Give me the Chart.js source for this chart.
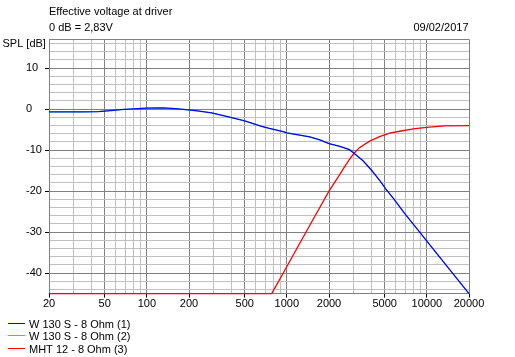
<!DOCTYPE html>
<html><head><meta charset="utf-8">
<script src="https://cdn.jsdelivr.net/npm/chart.js@4/dist/chart.umd.min.js"></script>
<style>html,body{margin:0;padding:0;background:#fff;}canvas{display:block;}</style>
</head><body>
<canvas id="c" width="515" height="357"></canvas>
<script>
const titleText = 'Effective voltage at driver';
const refText = '0 dB = 2,83V';
const dateText = '09/02/2017';
const yAxisTitle = 'SPL [dB]';
const seriesNames = ['W 130 S - 8 Ohm (1)', 'W 130 S - 8 Ohm (2)', 'MHT 12 - 8 Ohm (3)'];
const seriesColors = ['#0000ff', '#00ff00', '#ff0000'];

const wooferFreq = [20, 35, 45, 55, 65, 80, 100, 130, 160, 190, 230, 290, 390, 500, 660, 750, 940, 1000, 1460, 1720, 2000, 2390, 2800, 3000, 3500, 4000, 4600, 5100, 5800, 7000, 8890, 10000, 15000, 20000];
const wooferSpl = [-0.7, -0.68, -0.6, -0.35, -0.15, 0.05, 0.25, 0.28, 0.1, -0.15, -0.45, -0.9, -1.95, -2.9, -4.2, -4.7, -5.5, -5.8, -6.8, -7.5, -8.4, -9.1, -9.9, -10.7, -12.6, -14.8, -17.4, -19.5, -21.9, -25.6, -30.0, -32.2, -39.7, -45.0];
const woofer2Freq = [20, 35, 45, 55, 65, 80, 100, 130, 160, 190, 230, 290, 390, 500, 660, 750, 940, 1000, 1460, 1720, 2000, 2390, 2800, 3000, 3500, 4000, 4600, 5100, 5800, 7000, 8890, 10000, 15000, 20000];
const woofer2Spl = [-0.7, -0.68, -0.6, -0.35, -0.15, 0.05, 0.25, 0.28, 0.1, -0.15, -0.45, -0.9, -1.95, -2.9, -4.2, -4.7, -5.5, -5.8, -6.8, -7.5, -8.4, -9.1, -9.9, -10.7, -12.6, -14.8, -17.4, -19.5, -21.9, -25.6, -30.0, -32.2, -39.7, -45.0];
const tweeterFreq = [20, 780, 1000, 1500, 2000, 2384, 2600, 2811, 3000, 3300, 3900, 4600, 5420, 6390, 8000, 9925, 13400, 20000];
const tweeterSpl = [-45, -45, -38.4, -27.6, -20.0, -16.0, -13.9, -12.2, -10.9, -9.4, -7.8, -6.7, -5.85, -5.4, -4.8, -4.45, -4.07, -4.05];

const xGridValues = [20, 30, 40, 50, 60, 70, 80, 90, 100, 200, 300, 400, 500, 600, 700, 800, 900, 1000, 2000, 3000, 4000, 5000, 6000, 7000, 8000, 9000, 10000, 20000];
const xTickLabels = [20, 50, 100, 200, 500, 1000, 2000, 5000, 10000, 20000];
const yGridValues = [-45, -44, -42, -40, -38, -36, -34, -32, -30, -28, -26, -24, -22, -20, -18, -16, -14, -12, -10, -8, -6, -4, -2, 0, 2, 4, 6, 8, 10, 12, 14, 16, 17];
const yTickLabels = [10, 0, -10, -20, -30, -40];
const yMin = -45, yMax = 17;

const MAJOR = '#808080', MINOR = '#c0c0c0';
const FONT = {family: "'Liberation Sans', Arial, sans-serif", size: 11};
Chart.defaults.font.family = FONT.family;
Chart.defaults.font.size = 11;
Chart.defaults.color = '#000';

const toPts = (xs, ys) => xs.map((x, i) => ({x: x, y: ys[i]}));

const textPlugin = {
  id: 'texts',
  afterDraw(chart) {
    const ctx = chart.ctx, a = chart.chartArea;
    ctx.save();
    ctx.font = '11px ' + FONT.family;
    ctx.fillStyle = '#000';
    ctx.textBaseline = 'alphabetic';
    ctx.textAlign = 'left';
    ctx.fillText(titleText, a.left, 14.7);
    ctx.fillText(refText, a.left, 30.8);
    ctx.fillText(yAxisTitle, 2.5, 47.3);
    ctx.textAlign = 'right';
    ctx.fillText(dateText, a.right - 0.5, 30.8);
    ctx.textAlign = 'left';
    chart.data.datasets.forEach((ds, i) => {
      const ly = Math.floor(323 + 12.6 * i) + 0.5;
      ctx.strokeStyle = ds.borderColor;
      ctx.lineWidth = 1;
      ctx.beginPath();
      ctx.moveTo(8, ly);
      ctx.lineTo(25, ly);
      ctx.stroke();
      ctx.fillText(ds.label, 29, ly + 4);
    });
    ctx.restore();
  }
};

new Chart(document.getElementById('c'), {
  type: 'line',
  data: {
    datasets: [
      {label: seriesNames[0], data: toPts(wooferFreq, wooferSpl), borderColor: seriesColors[0], borderWidth: 1.3, clip: 2},
      {label: seriesNames[1], data: toPts(woofer2Freq, woofer2Spl), borderColor: seriesColors[1], borderWidth: 0.8, clip: 2},
      {label: seriesNames[2], data: toPts(tweeterFreq, tweeterSpl), borderColor: seriesColors[2], borderWidth: 1.3, clip: 2}
    ]
  },
  options: {
    responsive: false,
    animation: false,
    devicePixelRatio: 1,
    elements: {point: {radius: 0}, line: {tension: 0, fill: false}},
    layout: {padding: {left: 26, right: 46, top: 39.4, bottom: 43.4}},
    plugins: {legend: {display: false}, title: {display: false}, tooltip: {enabled: false}},
    scales: {
      x: {
        type: 'logarithmic',
        min: 20, max: 20000, bounds: 'data',
        afterBuildTicks: s => { s.ticks = xGridValues.map(v => ({value: v})); },
        afterFit: s => { s.height = 20; },
        border: {color: MAJOR, width: 1},
        grid: {
          color: c => xTickLabels.includes(c.tick.value) ? MAJOR : MINOR,
          tickColor: c => xTickLabels.includes(c.tick.value) ? '#000' : 'rgba(0,0,0,0)',
          tickLength: 4, lineWidth: 1
        },
        ticks: {
          autoSkip: false, maxRotation: 0, minRotation: 0, padding: 0,
          font: FONT, color: '#000',
          callback: v => xTickLabels.includes(v) ? String(v) : ''
        }
      },
      y: {
        type: 'linear',
        min: yMin, max: yMax, bounds: 'data',
        afterBuildTicks: s => { s.ticks = yGridValues.map(v => ({value: v})); },
        afterFit: s => { s.width = 23; },
        border: {color: MAJOR, width: 1},
        grid: {
          color: c => (yTickLabels.includes(c.tick.value) || c.tick.value === yMax || c.tick.value === yMin) ? MAJOR : MINOR,
          tickColor: c => yTickLabels.includes(c.tick.value) ? '#000' : 'rgba(0,0,0,0)',
          tickLength: 4, lineWidth: 1
        },
        ticks: {
          autoSkip: false, crossAlign: 'far', padding: 0,
          font: FONT, color: '#000',
          callback: v => yTickLabels.includes(v) ? String(v) : ''
        }
      }
    }
  },
  plugins: [textPlugin]
});
</script>
</body></html>
